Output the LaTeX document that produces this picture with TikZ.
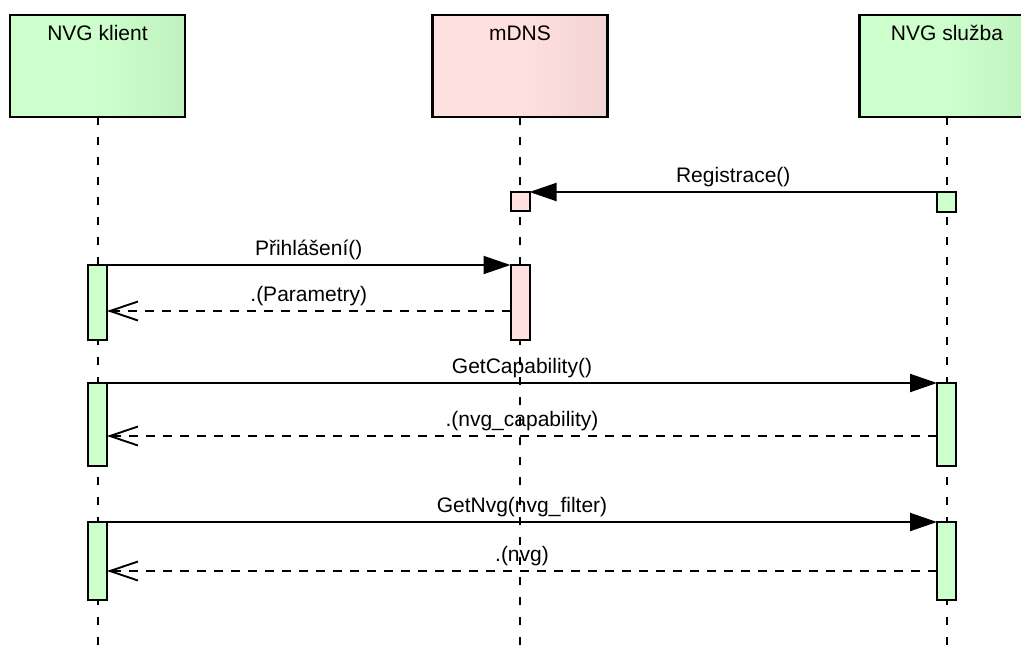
\documentclass[tikz,border=0pt]{standalone}
\usepackage{fontspec}
\setmainfont{Liberation Sans}
\usetikzlibrary{arrows.meta}

\definecolor{actgreen}{HTML}{CCFFCC}
\definecolor{headgreendark}{HTML}{B4E4B4}
\definecolor{actpink}{HTML}{FFE0E0}
\definecolor{headpinkdark}{HTML}{E6C6C6}

% header boxes: flat on the left, darkening towards the right edge
\pgfdeclarehorizontalshading{greenhead}{100bp}{color(0bp)=(actgreen); color(50bp)=(actgreen); color(100bp)=(headgreendark)}
\pgfdeclarehorizontalshading{pinkhead}{100bp}{color(0bp)=(actpink); color(50bp)=(actpink); color(100bp)=(headpinkdark)}

\begin{document}
\begin{tikzpicture}[x=1pt, y=-1pt,
  font=\fontsize{21}{25}\selectfont,
  head/.style={draw, line width=2.4pt, minimum width=175pt, inner sep=0pt, outer sep=0pt,
               text height=25pt, text depth=77pt},
  act/.style={draw, line width=2pt, minimum width=19pt, inner sep=0pt, outer sep=0pt},
  life/.style={line width=2pt, dash pattern=on 8pt off 12pt},
  call/.style={line width=2pt, -{Triangle[length=27pt, width=18pt]}},
  reply/.style={line width=1.9pt, dash pattern=on 9pt off 8pt,
                -{Straight Barb[length=28pt, width=19pt]}},
  lbl/.style={anchor=base, yshift=10pt, inner sep=0pt}]

\useasboundingbox (0,0) rectangle (1021,646);
\clip (0,0) rectangle (1021,646);

% lifeline heads
\node[head, shading=greenhead] (klient) at (97.5,66) {NVG klient};
\node[head, shading=pinkhead]  (mdns)   at (520,66)  {mDNS};
\node[head, shading=greenhead] (sluzba) at (947,66)  {NVG služba};

% lifeline ends
\coordinate (kbot) at (97.5,650);
\coordinate (mbot) at (520,650);
\coordinate (sbot) at (947,650);

\draw[life] (klient.south) -- (kbot);
\draw[life] (mdns.south)   -- (mbot);
\draw[life] (sluzba.south) -- (sbot);

% activations
\node[act, fill=actpink,  minimum height=19pt] (m0) at (520,201.5) {};
\node[act, fill=actgreen, minimum height=20pt] (s0) at (946.5,202) {};
\node[act, fill=actgreen, minimum height=75pt] (k1) at (97.5,302.5) {};
\node[act, fill=actpink,  minimum height=75pt] (m1) at (520,302.5) {};
\node[act, fill=actgreen, minimum height=83pt] (k2) at (97.5,424.5) {};
\node[act, fill=actgreen, minimum height=83pt] (s2) at (946.5,424.5) {};
\node[act, fill=actgreen, minimum height=78pt] (k3) at (97.5,561) {};
\node[act, fill=actgreen, minimum height=78pt] (s3) at (946.5,561) {};

% messages
\draw[call]  (s0.north west) -- node[lbl] {Registrace()} (m0.north east);
\draw[call]  (k1.north east) -- node[lbl] {Přihlášení()} (m1.north west);
\draw[reply] (m1.west |- 0,311) -- node[lbl] {.(Parametry)} (k1.east |- 0,311);
\draw[call]  (k2.north east) -- node[lbl] {GetCapability()} (s2.north west);
\draw[reply] (s2.west |- 0,436) -- node[lbl] {.(nvg\_capability)} (k2.east |- 0,436);
\draw[call]  (k3.north east) -- node[lbl] {GetNvg(nvg\_filter)} (s3.north west);
\draw[reply] (s3.west |- 0,571) -- node[lbl] {.(nvg)} (k3.east |- 0,571);

\end{tikzpicture}
\end{document}
